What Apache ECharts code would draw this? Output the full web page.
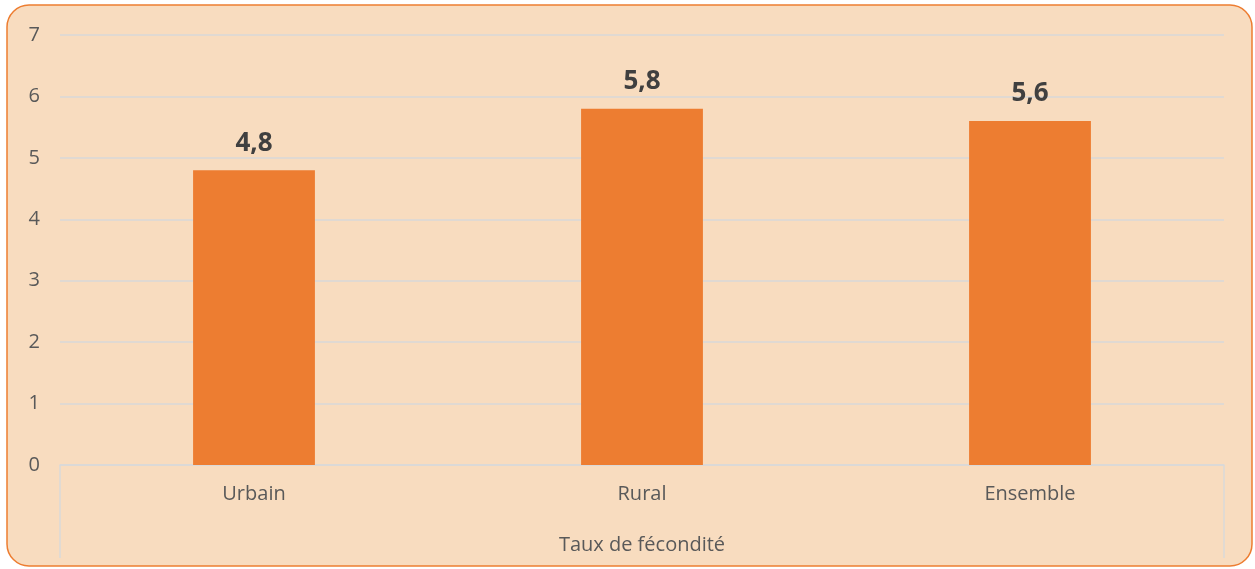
<!DOCTYPE html>
<html>
<head>
<meta charset="utf-8">
<script src="https://cdn.jsdelivr.net/npm/echarts@6/dist/echarts.min.js"></script>
<style>
    html, body { margin: 0; padding: 0; background: #fff; }
    #chart { width: 1255px; height: 569px; }
</style>
</head>
<body>
<div id="chart"></div>
<script>
    // données
    const categories = ['Urbain', 'Rural', 'Ensemble'];
    const values = [4.8, 5.8, 5.6];
    const groupLabel = ['Taux de fécondité'];

    let myChart = echarts.init(document.getElementById('chart'));
    const font = '"Open Sans", "Noto Sans", sans-serif';

    let option = {
        textStyle: { fontFamily: font },
        graphic: [
            {
                type: 'rect',
                z: -10,
                shape: { x: 7, y: 5, width: 1245, height: 561, r: 22 },
                style: { fill: '#F8DCBF', stroke: '#ED7D31', lineWidth: 1.5 }
            }
        ],
        grid: { left: 60, right: 31, top: 35, bottom: 104 },
        xAxis: [
            {
                type: 'category',
                data: categories,
                axisLine: { lineStyle: { color: '#D9D9D9', width: 1.5 } },
                axisTick: { show: false },
                axisLabel: { color: '#595959', fontSize: 20, margin: 19, fontFamily: font }
            },
            {
                type: 'category',
                position: 'bottom',
                data: groupLabel,
                axisLine: { show: false },
                axisTick: { show: true, length: 93, lineStyle: { color: '#D9D9D9', width: 1.5 } },
                axisLabel: { color: '#595959', fontSize: 20, margin: 70, fontFamily: font }
            }
        ],
        yAxis: {
            type: 'value',
            min: 0,
            max: 7,
            interval: 1,
            axisLine: { show: false },
            axisTick: { show: false },
            splitLine: { lineStyle: { color: '#D9D9D9', width: 1.5 } },
            axisLabel: { color: '#595959', fontSize: 20, margin: 20, fontFamily: font }
        },
        series: [
            {
                type: 'bar',
                data: values,
                barWidth: '31.4%',
                itemStyle: { color: '#ED7D31' },
                label: {
                    show: true,
                    position: 'top',
                    distance: 14,
                    color: '#404040',
                    fontSize: 26,
                    fontWeight: 'bold',
                    fontFamily: font,
                    formatter: p => String(p.value).replace('.', ',')
                }
            }
        ]
    };
    myChart.setOption(option);
</script>
</body>
</html>
